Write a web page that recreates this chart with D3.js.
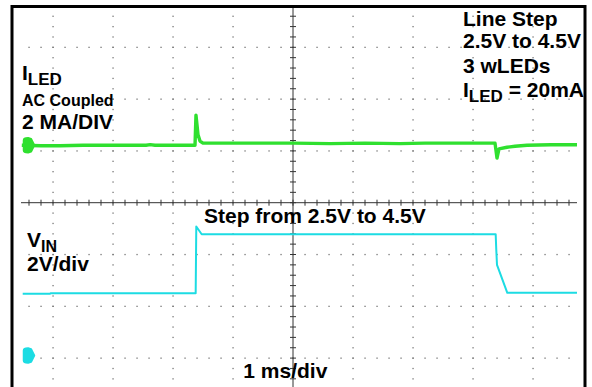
<!DOCTYPE html>
<html>
<head>
<meta charset="utf-8">
<script src="https://cdn.jsdelivr.net/npm/d3@7"></script>
<style>
  body { margin: 0; background: #fff; }
  text { font-family: Arial, "Liberation Sans", sans-serif; font-weight: bold; fill: #000; }
</style>
</head>
<body>
<svg id="chart" width="592" height="387"></svg>
<script>
// scope graticule, in divisions (1 ms/div across, trace divs up/down)
const timeDivs = [-4, -3, -2, -1, 1, 2, 3, 4];
const levelDivs = [-3, -2, -1, 1, 2, 3];

// I_LED, AC coupled : [time ms, level div]
const iledTrace = [
  [-4.52, 1.11], [-4.2, 1.10], [-3.88, 1.10], [-3.5, 1.11], [-3.22, 1.11], [-2.8, 1.11],
  [-2.45, 1.11], [-2.38, 1.12], [-2.3, 1.11], [-2.0, 1.11], [-1.633, 1.11],
  [-1.617, 1.69], [-1.60, 1.50], [-1.583, 1.31], [-1.55, 1.19], [-1.5, 1.15],
  [-0.55, 1.15], [0.0, 1.15], [0.62, 1.14], [1.2, 1.15], [1.78, 1.14], [2.2, 1.15],
  [2.62, 1.15], [3.0, 1.15], [3.367, 1.15],
  [3.40, 0.86], [3.433, 1.04], [3.567, 1.07], [3.7, 1.09], [3.9, 1.11], [4.3, 1.12], [4.733, 1.12]
];

// V_IN step 2.5V -> 4.5V : [time ms, level div]
const vinTrace = [
  [-4.505, -1.76], [-4.05, -1.76], [-4.04, -1.75], [-1.622, -1.75],
  [-1.612, -0.46], [-1.522, -0.61], [0.117, -0.61], [3.378, -0.61],
  [3.388, -0.91], [3.40, -1.20], [3.572, -1.74], [4.733, -1.74]
];

const channels = [
  { name: "ILED", color: "#2fe02f", ground: 1.11, width: 3.4 },
  { name: "VIN", color: "#1cdce3", ground: -2.95, width: 2 }
];

const svg = d3.select("#chart");
svg.append("rect").attr("width", 592).attr("height", 387).attr("fill", "#fff");

var x = d3.scaleLinear().domain([-5, 5]).range([-7, 593]);
var y = d3.scaleLinear().domain([-4, 4]).range([202.7 + 4 * 51.8, 202.7 - 4 * 51.8]);

// minor dots, 5 per division
var minorT = d3.range(-25, 26).map(function(d) { return d / 5; });
var minorV = d3.range(-20, 21).map(function(d) { return d / 5; });

var dots = [];
timeDivs.forEach(function(t) {
  minorV.forEach(function(v) { dots.push([x(t), y(v)]); });
});
levelDivs.forEach(function(v) {
  minorT.forEach(function(t) { dots.push([x(t), y(v)]); });
});
dots = dots.filter(function(d) { return d[0] > 20 && d[0] < 579 && d[1] > 9 && d[1] < 388; });

svg.append("g").selectAll("rect")
  .data(dots)
  .enter().append("rect")
  .attr("x", function(d) { return d[0] - 0.6; })
  .attr("y", function(d) { return d[1] - 0.6; })
  .attr("width", 1.3)
  .attr("height", 1.3)
  .attr("fill", "#777");

// centre axes with ticks
var axes = svg.append("g").attr("stroke", "#333").attr("stroke-width", 1);
axes.append("line")
  .attr("x1", x(0)).attr("x2", x(0))
  .attr("y1", 6).attr("y2", 387);
axes.append("line")
  .attr("x1", 21).attr("x2", 577)
  .attr("y1", y(0)).attr("y2", y(0));

axes.selectAll(".vtick")
  .data(minorV.filter(function(v) { return y(v) > 9 && y(v) < 387; }))
  .enter().append("line")
  .attr("class", "vtick")
  .attr("x1", x(0) - 3).attr("x2", x(0) + 3)
  .attr("y1", function(d) { return y(d); })
  .attr("y2", function(d) { return y(d); });

axes.selectAll(".htick")
  .data(minorT.filter(function(t) { return x(t) > 21 && x(t) < 578; }))
  .enter().append("line")
  .attr("class", "htick")
  .attr("x1", function(d) { return x(d); })
  .attr("x2", function(d) { return x(d); })
  .attr("y1", y(0) - 3).attr("y2", y(0) + 3);

// traces
var line = d3.line()
  .x(function(d) { return x(d[0]); })
  .y(function(d) { return y(d[1]); });

svg.append("path")
  .datum(iledTrace)
  .attr("d", line)
  .attr("fill", "none")
  .attr("stroke", channels[0].color)
  .attr("stroke-width", channels[0].width)
  .attr("stroke-linejoin", "round");

svg.append("path")
  .datum(vinTrace)
  .attr("d", line)
  .attr("fill", "none")
  .attr("stroke", channels[1].color)
  .attr("stroke-width", channels[1].width)
  .attr("stroke-linejoin", "round");

// channel ground markers
svg.selectAll(".marker")
  .data(channels)
  .enter().append("path")
  .attr("class", "marker")
  .attr("transform", function(d) { return "translate(23," + y(d.ground) + ")"; })
  .attr("d", "M1,-5 Q1,-7 5,-7 L8,-6 L11,0 L8,6 L5,7 Q1,7 1,5 Z")
  .attr("fill", function(d) { return d.color; })
  .attr("stroke", function(d) { return d.color; })
  .attr("stroke-width", 2.5)
  .attr("stroke-linejoin", "round");

// screen border
svg.append("path")
  .attr("d", "M12,387 V6.5 H585 V387")
  .attr("fill", "none")
  .attr("stroke", "#000")
  .attr("stroke-width", 3);

// labels
var t1 = svg.append("text").attr("x", 22).attr("y", 80).style("font-size", "21px");
t1.append("tspan").text("I");
t1.append("tspan").attr("dy", 5).style("font-size", "17px").text("LED");

svg.append("text").attr("x", 22).attr("y", 105.5).style("font-size", "16px").text("AC Coupled");
svg.append("text").attr("x", 22).attr("y", 129).style("font-size", "21px").text("2 MA/DIV");

svg.append("text").attr("x", 463).attr("y", 26).style("font-size", "21px").text("Line Step");
svg.append("text").attr("x", 463).attr("y", 48.3).style("font-size", "21px").text("2.5V to 4.5V");
svg.append("text").attr("x", 463).attr("y", 73).style("font-size", "21px").text("3 wLEDs");
var t2 = svg.append("text").attr("x", 463).attr("y", 96.7).style("font-size", "21px");
t2.append("tspan").text("I");
t2.append("tspan").attr("dy", 5).style("font-size", "17px").text("LED");
t2.append("tspan").attr("dy", -5).text(" = 20mA");

svg.append("text").attr("x", 204).attr("y", 223.3).style("font-size", "21px").text("Step from 2.5V to 4.5V");

var t3 = svg.append("text").attr("x", 27).attr("y", 247).style("font-size", "21px");
t3.append("tspan").text("V");
t3.append("tspan").attr("dy", 4.5).style("font-size", "16px").text("IN");
svg.append("text").attr("x", 27).attr("y", 271).style("font-size", "21px").text("2V/div");

svg.append("text").attr("x", 243.3).attr("y", 378.3).style("font-size", "21px").text("1 ms/div");
</script>
</body>
</html>
